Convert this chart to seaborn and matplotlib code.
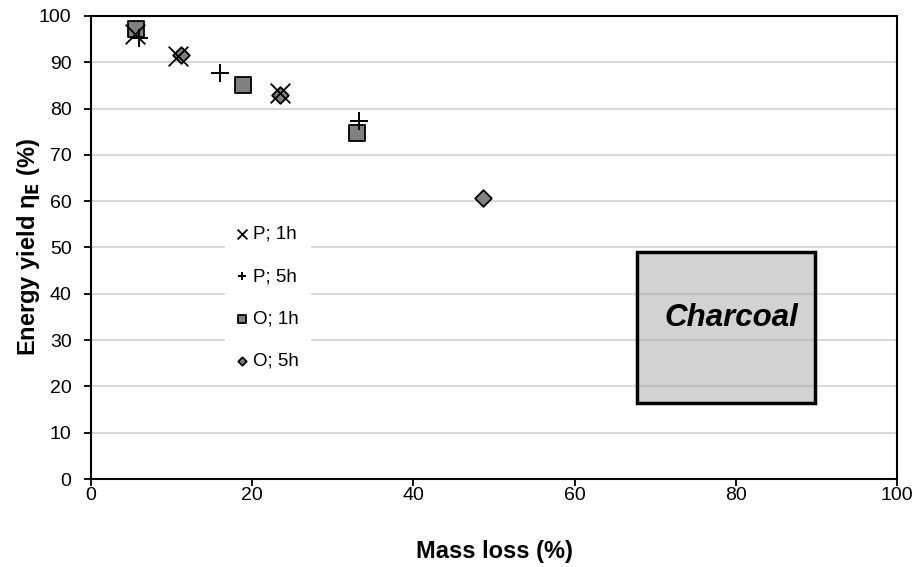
import numpy as np
import pandas as pd
import matplotlib
matplotlib.use("Agg")
import matplotlib.pyplot as plt
from matplotlib.patches import Rectangle
import seaborn as sns

# mass loss (%) and energy yield (%) per series
p1h_x = [5.5, 10.8, 23.4]
p1h_y = [96.0, 91.3, 83.4]
p5h_x = [6.0, 16.0, 33.2]
p5h_y = [95.2, 87.6, 77.3]
o1h_x = [5.6, 18.8, 33.0]
o1h_y = [97.2, 85.1, 74.7]
o5h_x = [11.2, 23.4, 48.7]
o5h_y = [91.6, 82.9, 60.6]

sns.set_style("white")
plt.rcParams["font.family"] = ["Liberation Sans", "DejaVu Sans"]
plt.rcParams["text.color"] = "black"
plt.rcParams["axes.labelcolor"] = "black"
plt.rcParams["xtick.color"] = "black"
plt.rcParams["ytick.color"] = "black"

fig, ax = plt.subplots(figsize=(9.19, 5.67), dpi=100)
fig.subplots_adjust(left=0.099, right=0.976, top=0.972, bottom=0.155)

# the Charcoal region
box = Rectangle((67.7, 16.4), 22.1, 32.6, facecolor=(0.65, 0.65, 0.65, 0.5),
                edgecolor="black", linewidth=2.5, zorder=1)
ax.add_patch(box)
ax.text(79.5, 34.8, "Charcoal", fontsize=22.5, fontweight="bold", style="italic",
        ha="center", va="center", color="black", zorder=2)

sns.scatterplot(x=o1h_x, y=o1h_y, marker="s", s=140, color="#808080",
                edgecolor="black", linewidth=1.3, label="O; 1h", ax=ax, zorder=3)
sns.scatterplot(x=o5h_x, y=o5h_y, marker="D", s=72, color="#808080",
                edgecolor="black", linewidth=1.3, label="O; 5h", ax=ax, zorder=3)
sns.scatterplot(x=p1h_x, y=p1h_y, marker="x", s=200, color="black",
                linewidth=1.3, label="P; 1h", ax=ax, zorder=4)
sns.scatterplot(x=p5h_x, y=p5h_y, marker="+", s=160, color="black",
                linewidth=1.4, label="P; 5h", ax=ax, zorder=4)

ax.set_xlim(0, 100)
ax.set_ylim(0, 100)
ax.set_xticks(np.arange(0, 101, 20))
ax.set_yticks(np.arange(0, 101, 10))
ax.yaxis.grid(True, color="#d9d9d9", linewidth=1.5, zorder=0)
ax.set_axisbelow(True)
for sp in ax.spines.values():
    sp.set_color("black")
    sp.set_linewidth(1.5)
ax.tick_params(axis="both", direction="out", length=5, width=1.3,
               labelsize=14, color="black", left=True, bottom=True)
ax.tick_params(axis="y", pad=9)
ax.tick_params(axis="x", pad=0.5)

ax.set_xlabel("Mass loss (%)", fontsize=17, fontweight="bold", labelpad=26)
ax.set_ylabel(r"Energy yield η$_\mathbf{E}$ (%)", fontsize=17, fontweight="bold",
              labelpad=-2)

handles, labels = ax.get_legend_handles_labels()
order = [labels.index(l) for l in ["P; 1h", "P; 5h", "O; 1h", "O; 5h"]]
leg = ax.legend([handles[i] for i in order], [labels[i] for i in order],
                loc="upper left", bbox_to_anchor=(0.155, 0.592), fontsize=13.5,
                frameon=True, fancybox=False, facecolor="white", edgecolor="none",
                framealpha=1, markerscale=0.5, labelspacing=1.35,
                handlelength=0.6, handletextpad=0.3, borderpad=0.6)

fig.savefig("out.png", dpi=100)
